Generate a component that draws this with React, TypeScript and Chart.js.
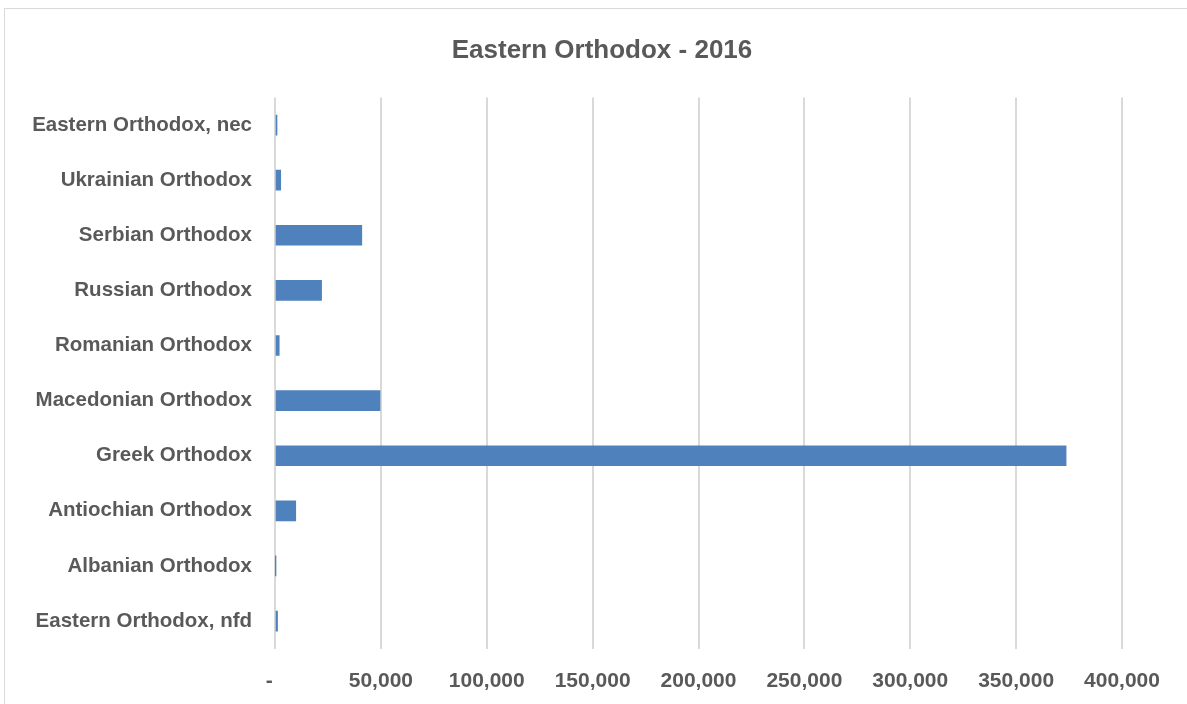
import React, { useEffect, useRef } from "react";
import { Chart, registerables } from "chart.js";

Chart.register(...registerables);

const chartTitle = "Eastern Orthodox - 2016";
const categories = [
  "Eastern Orthodox, nec",
  "Ukrainian Orthodox",
  "Serbian Orthodox",
  "Russian Orthodox",
  "Romanian Orthodox",
  "Macedonian Orthodox",
  "Greek Orthodox",
  "Antiochian Orthodox",
  "Albanian Orthodox",
  "Eastern Orthodox, nfd",
];
const values = [950, 2700, 41000, 22000, 2000, 49600, 373600, 9800, 100, 1200];
const xMin = 0;
const xMax = 400000;
const xStep = 50000;

const textColor = "#595959";
const gridColor = "#d9d9d9";
const barColor = "#4f81bd";
const fontFamily = "'Liberation Sans', Arial, sans-serif";

const titlePlugin = {
  id: "centredTitle",
  afterDraw(chart: any) {
    const ctx = chart.ctx;
    ctx.save();
    ctx.font = `bold 26px ${fontFamily}`;
    ctx.fillStyle = textColor;
    ctx.textAlign = "center";
    ctx.textBaseline = "middle";
    ctx.fillText(chartTitle, 602, 50.6);
    ctx.restore();
  },
};

export default function App() {
  const canvasRef = useRef<HTMLCanvasElement | null>(null);

  useEffect(() => {
    if (!canvasRef.current) return;
    const chart = new Chart(canvasRef.current, {
      type: "bar",
      data: {
        labels: categories,
        datasets: [
          {
            data: values,
            backgroundColor: barColor,
            borderWidth: 0,
            barThickness: 20,
          },
        ],
      },
      options: {
        indexAxis: "y",
        responsive: false,
        maintainAspectRatio: false,
        animation: false,
        layout: { padding: { left: 0, right: 65, top: 97.5, bottom: 0 } },
        plugins: {
          legend: { display: false },
          tooltip: { enabled: false },
          title: { display: false },
        },
        scales: {
          x: {
            type: "linear",
            min: xMin,
            max: xMax,
            grid: { color: gridColor, lineWidth: 2, drawTicks: false },
            border: { display: false },
            ticks: {
              stepSize: xStep,
              color: textColor,
              padding: 20,
              maxRotation: 0,
              font: { family: fontFamily, size: 21, weight: "bold" },
              callback: (v: any) => (Number(v) === 0 ? "-  " : Number(v).toLocaleString("en-US")),
            },
            afterFit: (scale: any) => {
              scale.height = 55.4;
            },
          },
          y: {
            grid: { display: false, drawTicks: false },
            border: { display: false },
            ticks: {
              color: textColor,
              padding: 23,
              font: { family: fontFamily, size: 20.5, weight: "bold" },
            },
            afterFit: (scale: any) => {
              scale.width = 275;
            },
          },
        },
      },
      plugins: [titlePlugin],
    });
    return () => chart.destroy();
  }, []);

  return (
    <div style={{ position: "fixed", left: 0, top: 0, width: 1187, height: 704, background: "#fff", overflow: "hidden" }}>
      <div
        style={{
          position: "absolute",
          left: 4,
          top: 8,
          width: 1190,
          height: 700,
          border: "1px solid #d9d9d9",
          boxSizing: "border-box",
        }}
      />
      <canvas ref={canvasRef} width={1187} height={704} style={{ position: "absolute", left: 0, top: 0, display: "block" }} />
    </div>
  );
}
